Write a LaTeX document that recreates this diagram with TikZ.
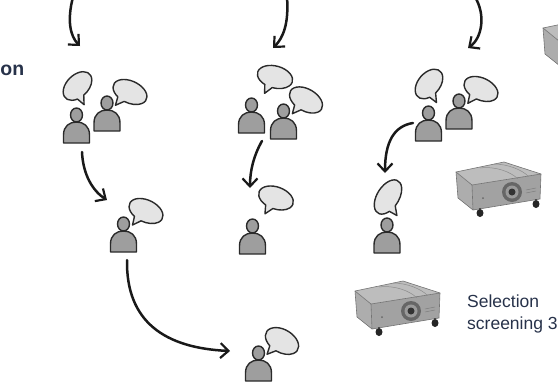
\documentclass[tikz,border=0pt]{standalone}
\usepackage{fontspec}
\setmainfont{Liberation Sans}
\usetikzlibrary{arrows.meta}

\definecolor{ink}{HTML}{2A2A2A}
\definecolor{bodygray}{HTML}{9E9E9E}
\definecolor{bubblegray}{HTML}{E4E4E4}
\definecolor{labelblue}{HTML}{27324A}
\definecolor{projtop}{HTML}{BDBDBD}
\definecolor{projfront}{HTML}{A2A2A2}
\definecolor{projside}{HTML}{ADADAD}

% speech bubble: centre x, centre y, x radius, y radius, tilt, tail angle
\newcommand\speechbubble[6]{%
  \draw[bubble, shift={(#1,#2)}, rotate=#5]
    ({#3*cos(#6+13)},{#4*sin(#6+13)})
    arc[start angle=#6+13, end angle=#6+347, x radius=#3, y radius=#4]
    -- ({(#3+8)*cos(#6)},{(#4+8)*sin(#6)}) -- cycle;}

\tikzset{
  figure/.style={draw=ink, fill=bodygray, line width=1.4pt, line join=round},
  bubble/.style={draw=ink, fill=bubblegray, line width=1.4pt, line join=round},
  flow/.style={draw=black!90, line width=2.5pt, line cap=round,
    -{Straight Barb[length=8pt, width=15pt, line width=2.2pt]}},
  label/.style={text=labelblue, inner sep=0pt},
  person/.pic={
    \draw[figure] (-13,0) -- (-13,-8) .. controls (-13,-17) and (-7,-21) .. (0,-21)
      .. controls (7,-21) and (13,-17) .. (13,-8) -- (13,0) -- cycle;
    \draw[figure] (0,-28) ellipse [x radius=6, y radius=7];
  },
  projector/.pic={
    % left face, top face, front face
    \fill[projside] (0,10) -- (16,23) -- (17,48) -- (2,36) -- cycle;
    \fill[projtop] (0,10) -- (48,0) -- (85,12) -- (16,23) -- cycle;
    \fill[projfront] (16,23) -- (85,12) -- (84,37) -- (17,48) -- cycle;
    \draw[black!55, line width=0.6pt] (0,10) -- (48,0) -- (85,12) -- (84,37) -- (17,48) -- (2,36) -- cycle;
    \draw[black!55, line width=0.6pt] (0,10) -- (16,23) -- (85,12);
    \draw[black!55, line width=0.6pt] (16,23) -- (17,48);
    % raised middle section on top
    \draw[black!45, line width=0.5pt] (24,6) .. controls (40,4) and (55,10) .. (62,17);
    \draw[black!45, line width=0.5pt] (38,2) .. controls (52,2) and (66,8) .. (72,14);
    % lens
    \fill[black!60] (56,30) ellipse [x radius=10, y radius=10];
    \fill[black!40] (56,30) ellipse [x radius=6.5, y radius=6.5];
    \fill[black!80] (56,30) ellipse [x radius=3.5, y radius=3.5];
    % vents and details
    \draw[black!50, line width=0.5pt] (70,28) -- (80,26) (70,31) -- (80,29);
    \fill[black!60] (27,36) circle [radius=1];
    % feet
    \fill[black!85] (24,51) ellipse [x radius=3.5, y radius=4];
    \fill[black!85] (80,42) ellipse [x radius=3.5, y radius=4];
    \draw[black!70, line width=1.2pt] (24,47) -- (24,46) (80,38) -- (80,37);
  }
}

\begin{document}
\begin{tikzpicture}[x=1pt, y=-1pt]
  \useasboundingbox (0,0) rectangle (558,381);
  \clip (0,0) rectangle (558,381);

  % ---------- connector end points ----------
  \coordinate (in1)  at (80,46);
  \coordinate (src1) at (73,-3);
  \coordinate (in2)  at (273,48);
  \coordinate (src2) at (287,-3);
  \coordinate (in3)  at (468,48);
  \coordinate (src3) at (475,-3);
  \coordinate (g1out) at (82,152);
  \coordinate (g4in)  at (107,200);
  \coordinate (g4out) at (127,260);
  \coordinate (g7in)  at (230,351);
  \coordinate (g2out) at (262,141);
  \coordinate (g5in)  at (250,188);
  \coordinate (g3out) at (413,123);
  \coordinate (g6in)  at (385,173);

  % ---------- connectors ----------
  \draw[flow] (src1) .. controls (67,20) and (70,36) .. (in1);
  \draw[flow] (src2) .. controls (289,24) and (283,38) .. (in2);
  \draw[flow] (src3) .. controls (486,15) and (482,38) .. (in3);
  \draw[flow] (g1out) .. controls (83,175) and (93,191) .. (g4in);
  \draw[flow] (g2out) .. controls (254,155) and (250,170) .. (g5in);
  \draw[flow] (g3out) .. controls (394,126) and (385,142) .. (g6in);
  \draw[flow] (g4out) .. controls (126,322) and (165,348) .. (g7in);

  % ---------- people ----------
  \pic at (76.5,143) {person};
  \pic at (107,131) {person};
  \pic at (123.5,252) {person};
  \pic at (258.5,381) {person};
  \pic at (251.5,133) {person};
  \pic at (283.5,139) {person};
  \pic at (252.5,254) {person};
  \pic at (428.5,141) {person};
  \pic at (459,129) {person};
  \pic at (387,253) {person};

  % ---------- speech bubbles ----------
  \speechbubble{77.5}{86}{17}{11}{45}{110}
  \speechbubble{130}{92}{18}{11}{-25}{107}
  \speechbubble{146}{211}{18}{11}{-25}{104}
  \speechbubble{282}{341}{18}{11.5}{-30}{104}
  \speechbubble{275}{77}{18}{11}{-15}{103}
  \speechbubble{306}{100}{18}{11}{-30}{101}
  \speechbubble{276}{198}{18}{11}{-20}{101}
  \speechbubble{429}{84}{17}{11}{50}{112}
  \speechbubble{481}{89}{18}{11}{-25}{103}
  \speechbubble{388}{197}{19}{11}{58}{114}

  % ---------- projectors ----------
  \pic at (456,162) {projector};
  \pic at (355,281) {projector};
  \pic at (543,18) {projector};

  % ---------- labels ----------
  \node[label, anchor=base east, font=\bfseries\fontsize{19.5}{22}\selectfont] (head) at (24.5,75) {on};
  \node[label, anchor=base west, font=\fontsize{17.5}{22}\selectfont] (sel1) at (467,307) {Selection};
  \node[label, anchor=base west, font=\fontsize{17.5}{22}\selectfont] (sel2) at (467,329) {screening 3};
\end{tikzpicture}
\end{document}
